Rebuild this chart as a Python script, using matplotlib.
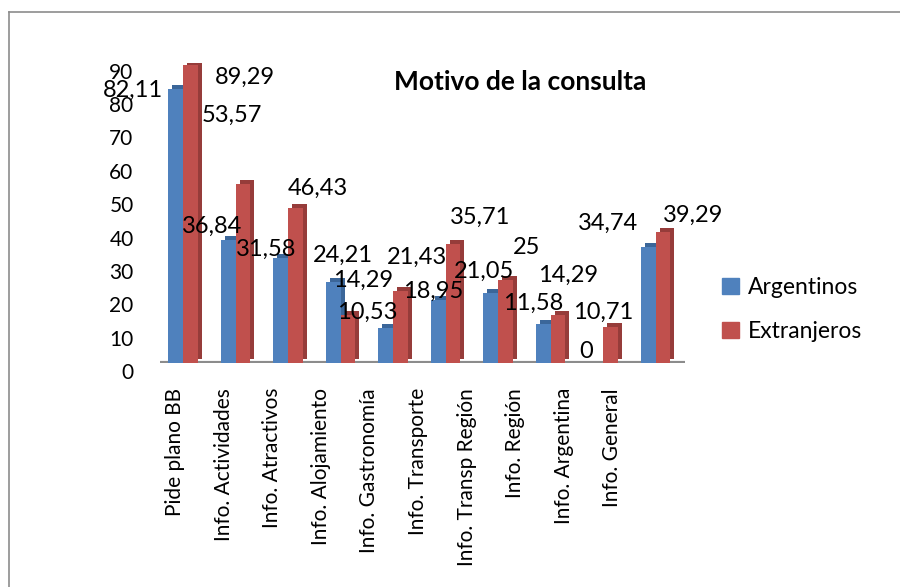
import numpy as np
import matplotlib
matplotlib.use('Agg')
import matplotlib.pyplot as plt
import matplotlib.transforms as mtransforms
from matplotlib.patches import Patch
from matplotlib.lines import Line2D

plt.rcParams['font.family'] = ['Lato', 'DejaVu Sans']

categorias = ['Pide plano BB', 'Info. Actividades', 'Info. Atractivos',
              'Info. Alojamiento', 'Info. Gastronomía', 'Info. Transporte',
              'Info. Transp Región', 'Info. Región', 'Info. Argentina',
              'Info. General']
argentinos = [82.11, 36.84, 31.58, 24.21, 10.53, 18.95, 21.05, 11.58, 0, 34.74]
extranjeros = [89.29, 53.57, 46.43, 14.29, 21.43, 35.71, 25, 14.29, 10.71, 39.29]
etiquetas_arg = ['82,11', '36,84', '31,58', '24,21', '10,53', '18,95', '21,05', '11,58', '0', '34,74']
etiquetas_ext = ['89,29', '53,57', '46,43', '14,29', '21,43', '35,71', '25', '14,29', '10,71', '39,29']
yticks = [0, 10, 20, 30, 40, 50, 60, 70, 80, 90]

# where excel dropped the data labels (pixels from bar top, +y = up)
off_arg = [(-43, -1), (-16, 14), (-15, 8), (10, 27), (-18, 16),
           (-5, 8), (-7, 21), (-10, 21), (-10, 11), (-40, 24)]
off_ext = [(54, -12), (-11, 69), (22, 20), (15, 35), (17, 34),
           (27, 27), (21, 32), (10, 40), (-7, 15), (30, 17)]

AZUL = '#4F81BD'
AZUL_OSC = '#3B6699'
ROJO = '#C0504D'
ROJO_OSC = '#963C3A'

W, H = 900, 587
fig = plt.figure(figsize=(9, 5.87), dpi=100)

ax = fig.add_axes([160 / W, (H - 363) / H, 525 / W, 300.3 / H])
ax.set_xlim(-0.44, 9.56)
ax.set_ylim(0, 90)

x = np.arange(len(categorias))
w = 0.28
sombra = mtransforms.offset_copy(ax.transData, fig=fig, x=4, y=4, units='dots')

ax.bar(x - w / 2, argentinos, w, color=AZUL_OSC, transform=sombra, zorder=2)
ax.bar(x - w / 2, argentinos, w, color=AZUL, zorder=3)
ax.bar(x + w / 2, extranjeros, w, color=ROJO_OSC, transform=sombra, zorder=4)
ax.bar(x + w / 2, extranjeros, w, color=ROJO, zorder=5)

ax.axhline(0, color='#8c8c8c', lw=3, zorder=1)

for i in range(len(categorias)):
    dx, dy = off_arg[i]
    ax.annotate(etiquetas_arg[i], (x[i] - w / 2, argentinos[i]),
                xytext=(dx, dy), textcoords='offset pixels',
                ha='center', va='center', fontsize=17, zorder=10)
    dx, dy = off_ext[i]
    ax.annotate(etiquetas_ext[i], (x[i] + w / 2, extranjeros[i]),
                xytext=(dx, dy), textcoords='offset pixels',
                ha='center', va='center', fontsize=17, zorder=10)

for s in ax.spines.values():
    s.set_visible(False)
ax.set_xticks([])
ax.set_yticks(yticks)
ax.set_yticklabels([str(v) for v in yticks], fontsize=15)
ax.tick_params(axis='y', length=0, pad=19)
bajar = mtransforms.ScaledTranslation(0, -8 / 100, fig.dpi_scale_trans)
for lab in ax.get_yticklabels():
    lab.set_transform(lab.get_transform() + bajar)

# category labels sit on a narrower band (perspective)
axl = fig.add_axes([150.7 / W, (H - 388) / H, 486 / W, 0.001])
axl.set_xlim(-0.5, 9.5)
axl.set_xticks(x)
axl.set_xticklabels(categorias, rotation=90, fontsize=15)
axl.tick_params(axis='x', length=0, pad=0)
axl.set_yticks([])
for s in axl.spines.values():
    s.set_visible(False)
axl.patch.set_visible(False)

fig.text(520 / W, 1 - 82 / H, 'Motivo de la consulta', ha='center', va='center',
         fontsize=19, fontweight='bold')

handles = [Patch(color=AZUL, label='Argentinos'), Patch(color=ROJO, label='Extranjeros')]
fig.legend(handles=handles, loc='upper left', bbox_to_anchor=(711 / W, 1 - 266 / H),
           frameon=False, fontsize=16.5, handlelength=0.7, handleheight=0.7,
           handletextpad=0.4, labelspacing=1.0, borderpad=0)

# chart frame
fig.add_artist(Line2D([9 / W, 9 / W], [0, 1 - 12 / H], color='#8c8c8c', lw=1.2))
fig.add_artist(Line2D([9 / W, 1], [1 - 12 / H, 1 - 12 / H], color='#8c8c8c', lw=1.2))

fig.savefig('out.png', dpi=100)
